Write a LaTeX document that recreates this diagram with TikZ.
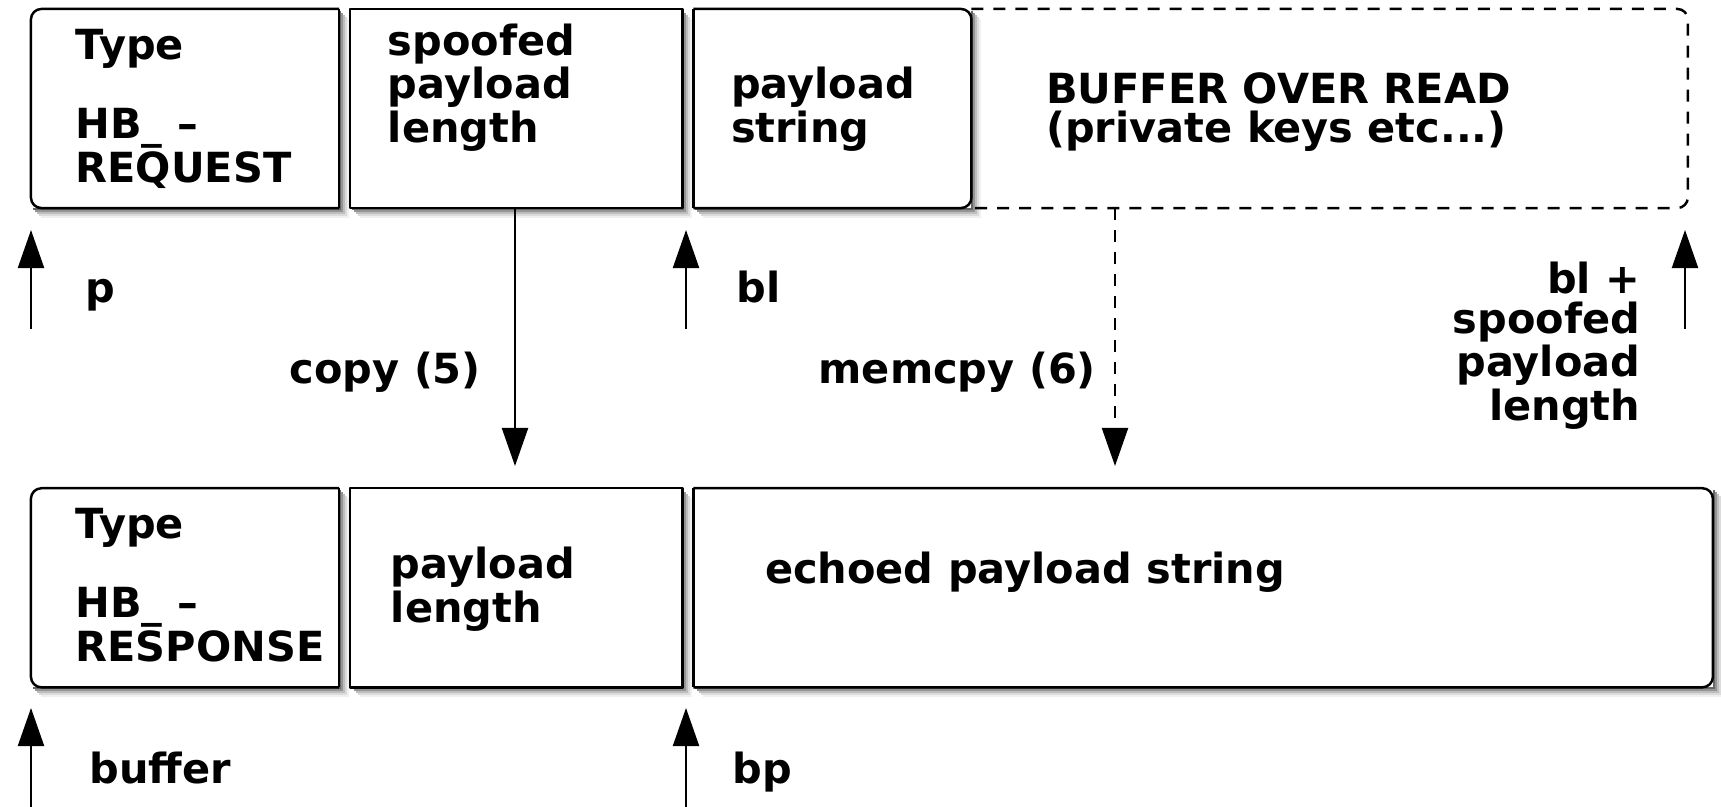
\documentclass[tikz,border=0pt]{standalone}
\usepackage{fontspec}
\setmainfont{DejaVu Sans}
\usetikzlibrary{arrows.meta, positioning, calc, backgrounds}

\begin{document}
\begin{tikzpicture}[
      x=0.01cm, y=-0.01cm,
      cell/.style ={rectangle, fill=white, inner sep=0pt, outer sep=0pt, minimum height=1.99cm},
      txt/.style  ={inner sep=0pt, anchor=base west, align=left, font={\bfseries\fontsize{11.8}{11.24}\selectfont}},
      rtxt/.style ={txt, anchor=base east, align=right},
      wall/.style ={line width=0.7pt, line join=round},
      hole/.style ={wall, dash pattern=on 0.12cm off 0.1cm},
      tip/.style  ={line width=0.6pt, -{Triangle[length=3.8mm, width=2.6mm]}}
    ]
    \useasboundingbox (0,0) rectangle (1721,807);

    % request record
    \node[cell, minimum width=3.08cm] (rqT) at (185,108.5) {};
    \node[cell, minimum width=3.32cm, right=0.11cm of rqT] (rqL) {};
    \node[cell, minimum width=2.78cm, right=0.11cm of rqL] (rqS) {};
    \node[rectangle, inner sep=0pt, outer sep=0pt, minimum height=1.99cm,
          minimum width=7.16cm, right=0cm of rqS] (over) {};

    % response record
    \node[cell, minimum width=3.08cm, below=2.8cm of rqT] (rsT) {};
    \node[cell, minimum width=3.32cm, right=0.11cm of rsT] (rsL) {};
    \node[cell, minimum width=10.19cm, right=0.11cm of rsL] (rsS) {};

    % shadows, soft edge
    \begin{scope}[on background layer]
      \foreach \b in {rqT, rqL, rqS, rsT, rsL, rsS}
        \foreach \d/\c in {10/6, 8/14, 6/26, 4/42, 2/60}
          \fill[black!\c] ($(\b.south west)+(\d,\d)$) rectangle ($(\b.north east)+(\d,\d)$);
    \end{scope}

    % outlines
    \draw[wall, rounded corners=3pt] (rqT.north east) -- (rqT.north west) -- (rqT.south west) -- (rqT.south east);
    \draw[wall] (rqT.south east) -- (rqT.north east);
    \draw[wall] (rqL.south west) rectangle (rqL.north east);
    \draw[wall, rounded corners=3pt] (rqS.north west) -- (rqS.north east) -- (rqS.south east) -- (rqS.south west);
    \draw[wall] (rqS.south west) -- (rqS.north west);
    \draw[hole, rounded corners=3pt] (over.north west) -- (over.north east) -- (over.south east) -- (over.south west);
    \draw[wall, rounded corners=3pt] (rsT.north east) -- (rsT.north west) -- (rsT.south west) -- (rsT.south east);
    \draw[wall] (rsT.south east) -- (rsT.north east);
    \draw[wall] (rsL.south west) rectangle (rsL.north east);
    \draw[wall, rounded corners=3pt] (rsS.north west) -- (rsS.north east) -- (rsS.south east) -- (rsS.south west);
    \draw[wall] (rsS.south west) -- (rsS.north west);

    % box texts (base = last line)
    \node[txt] (rqTt) at ($(rqT.north west)+(44,174)$) {Type\\[11.24pt]HB\_ \textendash\\REQUEST};
    \node[txt] (rqLt) at ($(rqL.north west)+(37,134)$) {spoofed\\payload\\length};
    \node[txt] (rqSt) at ($(rqS.north west)+(37,134)$) {payload\\string};
    \node[txt] (overt) at ($(over.north west)+(74,134)$) {BUFFER OVER READ\\(private keys etc...)};
    \node[txt] (rsTt) at ($(rsT.north west)+(44,173)$) {Type\\[11.24pt]HB\_ \textendash\\RESPONSE};
    \node[txt] (rsLt) at ($(rsL.north west)+(40,134)$) {payload\\length};
    \node[txt] (rsSt) at ($(rsS.north west)+(71,95)$) {echoed payload string};

    % pointers
    \coordinate (pA) at (31,329);     \coordinate (pB) at (31,230);
    \coordinate (blA) at (686,329);   \coordinate (blB) at (686,230);
    \coordinate (endA) at (1685,329); \coordinate (endB) at (1685,230);
    \coordinate (bufA) at (31,807);   \coordinate (bufB) at (31,708);
    \coordinate (bpA) at (686,807);   \coordinate (bpB) at (686,708);
    \draw[tip] (pA) -- (pB);
    \draw[tip] (blA) -- (blB);
    \draw[tip] (endA) -- (endB);
    \draw[tip] (bufA) -- (bufB);
    \draw[tip] (bpA) -- (bpB);

    \node[txt]  (lp)   at (85,303)   {p};
    \node[txt]  (lbl)  at (736,303)  {bl};
    \node[rtxt] (lend) at (1641,421) {bl +\\spoofed\\payload\\length};
    \node[txt]  (lbuf) at (89,784)   {buffer};
    \node[txt]  (lbp)  at (732,784)  {bp};

    % copies
    \coordinate (cpB) at (515,466);
    \coordinate (mcB) at (1115,466);
    \draw[tip] (rqL.south -| cpB) -- (cpB);
    \draw[tip, dash pattern=on 0.12cm off 0.1cm] (over.south -| mcB) -- (mcB);
    \node[txt] (lcp) at (289,384) {copy (5)};
    \node[txt] (lmc) at (818,384) {memcpy (6)};

\end{tikzpicture}
\end{document}
